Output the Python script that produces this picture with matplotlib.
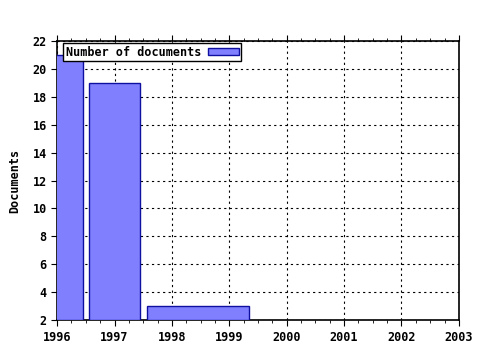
import matplotlib
matplotlib.use("Agg")
import matplotlib.pyplot as plt
from matplotlib.ticker import MultipleLocator

# data
bin_start = [1995.55, 1996.55, 1997.56]
bin_end = [1996.45, 1997.45, 1999.35]
documents = [21, 19, 3]
x_ticks = [1996, 1997, 1998, 1999, 2000, 2001, 2002, 2003]
y_ticks = [2, 4, 6, 8, 10, 12, 14, 16, 18, 20, 22]

plt.rcParams['font.family'] = 'DejaVu Sans Mono'
plt.rcParams['font.weight'] = 'bold'
plt.rcParams['axes.labelweight'] = 'bold'
plt.rcParams['font.size'] = 8.5

fig = plt.figure(figsize=(4.8, 3.5), dpi=100)
ax = fig.add_axes([0.119, 0.0857, 0.837, 0.797])

widths = [e - s for s, e in zip(bin_start, bin_end)]
ax.bar(bin_start, [d - 2 for d in documents], width=widths, bottom=2, align='edge',
       color='#8080ff', edgecolor='#1010a0', linewidth=1.0, label='Number of documents',
       zorder=3)

ax.set_xlim(1996, 2003)
ax.set_ylim(2, 22)
ax.set_xticks(x_ticks)
ax.set_yticks(y_ticks)
ax.xaxis.set_minor_locator(MultipleLocator(0.25))
ax.tick_params(axis='x', which='both', direction='out', top=True, bottom=True)
ax.tick_params(axis='x', which='major', length=4, pad=4)
ax.tick_params(axis='x', which='minor', length=2)
ax.tick_params(axis='y', which='major', direction='out', length=4, left=True, right=False)
ax.grid(True, color='black', linestyle=(0, (2, 3)), linewidth=0.8, zorder=1)
for s in ax.spines.values():
    s.set_linewidth(1.2)

ax.set_ylabel('Documents', labelpad=8)

leg = ax.legend(loc='upper left', markerfirst=False, fancybox=False, framealpha=1,
                edgecolor='black', borderpad=0.2, handlelength=2.6, handleheight=0.5,
                borderaxespad=0.2, handletextpad=0.6, bbox_to_anchor=(0.01, 1.0))
leg.get_frame().set_linewidth(1.0)
leg.set_zorder(5)

fig.savefig('out.png', dpi=100)
